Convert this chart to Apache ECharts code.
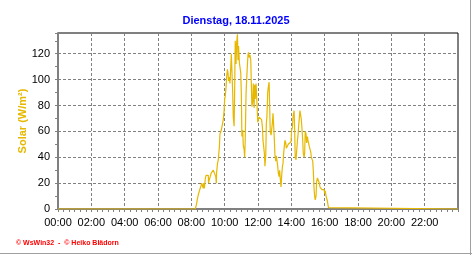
<!DOCTYPE html>
<html>
<head>
<meta charset="utf-8">
<script src="https://cdn.jsdelivr.net/npm/echarts@6/dist/echarts.min.js"></script>
<style>
html,body{margin:0;padding:0;background:#fff;}
#c{width:472px;height:255px;}
</style>
</head>
<body>
<div id="c"></div>
<script>
const titleText = 'Dienstag, 18.11.2025';
const yName = 'Solar (W/m²)';
const footer = '\u00A9 WsWin32  -  \u00A9 Heiko Blädorn';
const xTickMinutes = [0,120,240,360,480,600,720,840,960,1080,1200,1320];
const minutes = [0,494,498,502,505,509,512,515,517,520,523,524,527,530,533,541,542,545,548,552,556,559,566,568,570,571,574,577,581,583,588,593,595,598,600,602,605,607,610,612,614,617,619,622,624,626,629,631,634,636,638,641,643,646,648,650,653,655,658,660,662,665,667,670,672,674,677,679,682,684,686,689,691,694,696,698,701,703,706,708,710,713,716,719,721,724,726,728,731,733,736,738,740,743,745,748,750,752,755,757,760,762,764,767,769,772,774,776,779,781,784,786,788,791,793,796,798,800,803,805,808,810,812,815,817,820,822,824,827,829,832,834,836,839,841,844,846,848,850,852,854,857,859,862,864,866,869,871,874,876,878,881,883,886,888,890,893,895,898,900,902,905,907,910,912,914,917,919,922,924,926,929,931,934,936,938,941,943,946,948,950,953,955,958,960,962,965,967,970,972,974,977,1440];
const solar = [0,0,3,8,11,14,16,18,20,21,16,20,16,23,26,26,20,23,25,28,29,30,30,25,20,28,35,38,48,58,61,62,69,76,85,87,94,102,108,105,99,102,97,110,120,119,89,71,64,92,130,112,128,135,115,126,113,112,105,89,56,61,49,46,40,53,89,99,112,119,121,117,119,115,97,79,83,97,78,96,85,97,83,67,69,71,70,71,70,69,63,53,49,43,33,42,66,71,90,94,98,79,60,57,58,67,74,66,53,42,37,41,42,33,28,25,30,24,17,25,33,35,42,49,53,51,47,48,47,50,51,51,51,52,61,63,71,72,76,61,40,38,44,53,57,63,71,76,76,69,63,53,43,40,43,60,58,51,56,53,51,48,47,44,40,40,37,30,15,10,7,10,21,24,25,24,20,17,16,16,15,15,14,15,12,14,10,9,6,3,1,0,0];

const data = minutes.map((m,i)=>[m, solar[i]]);
function fmt(v){const h=Math.floor(v/60), m=v%60;return String(h).padStart(2,'0')+':'+String(m).padStart(2,'0');}
const chart = echarts.init(document.getElementById('c'), null, {renderer:'canvas'});
const grey = '#808080';
const gold = '#e6b800';
chart.setOption({
  animation:false,
  backgroundColor:'#fff',
  title:{text:titleText,left:'center',top:10,textStyle:{fontFamily:'Liberation Sans',fontSize:11,fontWeight:'bold',color:'#0000ff'}},
  grid:{left:58,right:14,top:33,bottom:46,show:true,borderColor:'#000',borderWidth:1,backgroundColor:'transparent'},
  xAxis:{type:'value',min:0,max:1440,interval:120,
    axisLine:{show:true,lineStyle:{color:grey,width:2}},
    axisTick:{show:true,length:3,lineStyle:{color:grey}},
    minorTick:{show:true,splitNumber:6,length:3,lineStyle:{color:grey}},
    splitLine:{show:true,lineStyle:{color:grey,type:[3,2],width:1}},
    axisLabel:{formatter:v=>xTickMinutes.includes(v)?fmt(v):'',showMaxLabel:false,margin:8,fontFamily:'Liberation Sans',fontSize:11,color:'#000'}
  },
  yAxis:{type:'value',min:0,max:136,interval:20,
    name:yName,nameLocation:'middle',nameGap:30,nameMoveOverlap:false,
    nameTextStyle:{fontFamily:'Liberation Sans',fontSize:11,fontWeight:'bold',color:gold},
    axisLine:{show:true,lineStyle:{color:grey,width:2}},
    axisTick:{show:true,length:3,lineStyle:{color:grey}},
    minorTick:{show:true,splitNumber:2,length:3,lineStyle:{color:grey}},
    splitLine:{show:true,lineStyle:{color:grey,type:[3,2],width:1}},
    axisLabel:{margin:8,fontFamily:'Liberation Sans',fontSize:11,color:'#000',showMaxLabel:false}
  },
  series:[{type:'line',data:data,showSymbol:false,lineStyle:{color:gold,width:1.2},itemStyle:{color:gold},z:3}],
  graphic:[
    {type:'text',left:16,top:240,style:{text:footer,fill:'#ff0000',font:'bold 7px "Liberation Sans"'}},
    {type:'line',shape:{x1:470.5,y1:0,x2:470.5,y2:255},style:{stroke:'#a0a0a0',lineWidth:1}},
    {type:'line',shape:{x1:0,y1:253.5,x2:472,y2:253.5},style:{stroke:'#a0a0a0',lineWidth:1}}
  ]
});
</script>
</body>
</html>
